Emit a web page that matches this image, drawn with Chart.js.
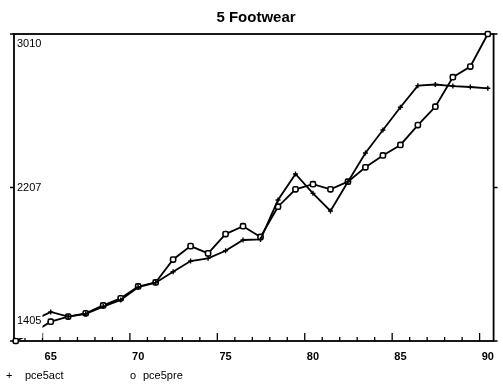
<!DOCTYPE html>
<html>
<head>
<meta charset="utf-8">
<title>5 Footwear</title>
<script src="https://cdn.jsdelivr.net/npm/chart.js@4/dist/chart.umd.min.js"></script>
<style>
  html, body { margin: 0; padding: 0; background: #fff; }
  #wrap { position: relative; width: 503px; height: 385px; }
  #legend { position: absolute; left: 0; top: 369px; width: 503px; height: 14px;
    font: 11px "Liberation Sans", Arial, sans-serif; line-height: 13px; color: #000; }
  #legend span { position: absolute; top: 0; white-space: nowrap; }
</style>
</head>
<body>
<div id="wrap">
  <canvas id="chart" width="503" height="385"></canvas>
  <div id="legend"></div>
</div>
<script>
// values
const years = [63, 64, 65, 66, 67, 68, 69, 70, 71, 72, 73, 74, 75, 76, 77,
  78, 79, 80, 81, 82, 83, 84, 85, 86, 87, 88, 89, 90];
const pce5act = [null, 1513, 1557, 1533, 1547, 1585, 1619, 1686, 1710, 1767, 1823, 1837, 1877, 1933, 1936,
  2142, 2278, 2177, 2085, 2238, 2388, 2508, 2627, 2740, 2746, 2738, 2733, 2726];
const pce5pre = [1405, 1450, 1506, 1533, 1550, 1591, 1628, 1690, 1711, 1831, 1901, 1863, 1964, 2005, 1949,
  2107, 2198, 2225, 2198, 2238, 2313, 2375, 2430, 2534, 2630, 2784, 2840, 3010];
const seriesNames = ['pce5act', 'pce5pre'];
const xTickValues = [65, 70, 75, 80, 85, 90];
const yTickValues = [1405, 2207.5, 3010];
const yTickLabels = ['1405', '2207', '3010'];

const FONT = '"Liberation Sans", Arial, sans-serif';
const toPoints = (vals) => years
  .map((x, i) => ({ x, y: vals[i] }))
  .filter((p) => p.y !== null);

// inward year ticks on the bottom axis (drawn slightly left of the labels, as in the original)
const tickShift = 0.47;

const framePlugin = {
  id: 'frame',
  beforeDatasetsDraw(chart) {
    const { ctx, chartArea: a, scales } = chart;
    ctx.save();
    ctx.strokeStyle = '#000';
    ctx.lineWidth = 1.3;
    ctx.beginPath();
    for (let yr = 63; yr <= 90; yr += 1) {
      const px = scales.x.getPixelForValue(yr - tickShift);
      if (px <= a.left + 1 || px >= a.right - 1) continue;
      const len = yr % 5 === 0 ? 8 : 4;
      ctx.moveTo(px, a.bottom);
      ctx.lineTo(px, a.bottom - len);
    }
    yTickValues.forEach((v) => {
      const py = scales.y.getPixelForValue(v);
      ctx.moveTo(a.left - 4, py);
      ctx.lineTo(a.left, py);
      ctx.moveTo(a.right, py);
      ctx.lineTo(a.right + 4, py);
    });
    ctx.stroke();
    ctx.lineWidth = 1.8;
    ctx.strokeRect(a.left, a.top, a.right - a.left, a.bottom - a.top);
    ctx.restore();
  },
  afterDatasetsDraw(chart) {
    const { ctx, chartArea: a, scales } = chart;
    ctx.save();
    ctx.font = `11px ${FONT}`;
    ctx.textBaseline = 'middle';
    ctx.textAlign = 'left';
    yTickValues.forEach((v, i) => {
      const py = scales.y.getPixelForValue(v);
      const yc = Math.min(Math.max(py, a.top + 10), a.bottom - 20);
      const w = ctx.measureText(yTickLabels[i]).width;
      ctx.fillStyle = '#fff';
      ctx.fillRect(a.left + 2, yc - 6, w + 2, 23);
      ctx.fillStyle = '#000';
      ctx.fillText(yTickLabels[i], a.left + 3, yc);
    });
    ctx.restore();
  },
};

const chart = new Chart(document.getElementById('chart'), {
  type: 'line',
  data: {
    datasets: [
      {
        label: seriesNames[0],
        data: toPoints(pce5act),
        borderColor: '#000',
        borderWidth: 1.8,
        pointStyle: 'cross',
        pointRadius: 2.5,
        pointBorderWidth: 1.4,
        pointBorderColor: '#000',
        tension: 0,
        clip: false,
      },
      {
        label: seriesNames[1],
        data: toPoints(pce5pre),
        borderColor: '#000',
        borderWidth: 1.8,
        pointStyle: 'rectRounded',
        pointRadius: 3,
        pointBorderWidth: 1.6,
        pointBorderColor: '#000',
        pointBackgroundColor: '#fff',
        tension: 0,
        clip: false,
      },
    ],
  },
  options: {
    responsive: false,
    animation: false,
    events: [],
    layout: { padding: { left: 14, right: 5, top: 0, bottom: 0 } },
    plugins: {
      legend: { display: false },
      tooltip: { enabled: false },
      title: {
        display: true,
        text: '5 Footwear',
        color: '#000',
        font: { family: FONT, size: 15, weight: 'bold' },
        padding: { top: 9, bottom: 7 },
      },
    },
    scales: {
      x: {
        type: 'linear',
        min: 62.9,
        max: 90.33,
        afterBuildTicks: (s) => { s.ticks = xTickValues.map((v) => ({ value: v })); },
        afterFit: (s) => { s.height = 44; },
        grid: { display: false, drawTicks: false },
        border: { display: false },
        ticks: {
          color: '#000',
          font: { family: FONT, size: 11, weight: 'bold' },
          padding: 9,
          maxRotation: 0,
          autoSkip: false,
        },
      },
      y: {
        min: 1405,
        max: 3010,
        afterBuildTicks: (s) => { s.ticks = yTickValues.map((v) => ({ value: v })); },
        afterFit: (s) => { s.width = 0; },
        grid: { display: false, drawTicks: false },
        border: { display: false },
        ticks: { display: false },
      },
    },
  },
  plugins: [framePlugin],
});

// legend under the axis, built from the dataset labels
const legendEl = document.getElementById('legend');
const legendMarks = ['+', 'o'];
const legendLeft = [[6, 25], [130, 143]];
chart.data.datasets.forEach((ds, i) => {
  const mark = document.createElement('span');
  mark.textContent = legendMarks[i];
  mark.style.left = `${legendLeft[i][0]}px`;
  const txt = document.createElement('span');
  txt.textContent = ds.label;
  txt.style.left = `${legendLeft[i][1]}px`;
  legendEl.appendChild(mark);
  legendEl.appendChild(txt);
});
</script>
</body>
</html>
